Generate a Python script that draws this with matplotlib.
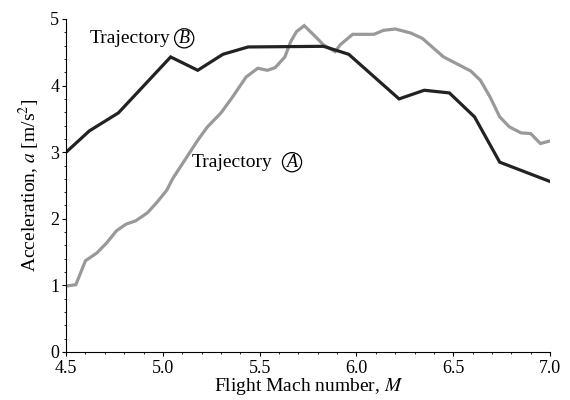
import matplotlib
matplotlib.use('Agg')
import matplotlib.pyplot as plt
from matplotlib.ticker import MultipleLocator, FormatStrFormatter

plt.rcParams['font.family'] = ['Liberation Serif', 'DejaVu Serif']
plt.rcParams['mathtext.fontset'] = 'stix'

# Trajectory A (gray)
mach_a = [4.50, 4.55, 4.60, 4.66, 4.71, 4.76, 4.81, 4.86, 4.92, 4.97, 5.02, 5.05,
          5.18, 5.23, 5.30, 5.36, 5.43, 5.49, 5.54, 5.58, 5.63, 5.66, 5.69, 5.73,
          5.79, 5.83, 5.89, 5.915, 5.98, 6.09, 6.14, 6.20, 6.28, 6.34, 6.45, 6.59,
          6.64, 6.69, 6.74, 6.79, 6.85, 6.90, 6.95, 7.00]
acc_a = [0.99, 1.01, 1.37, 1.49, 1.64, 1.82, 1.92, 1.97, 2.09, 2.25, 2.43, 2.60,
         3.18, 3.38, 3.59, 3.83, 4.13, 4.26, 4.23, 4.27, 4.43, 4.66, 4.81, 4.90,
         4.73, 4.61, 4.51, 4.61, 4.77, 4.77, 4.83, 4.85, 4.79, 4.71, 4.43, 4.22,
         4.08, 3.83, 3.53, 3.38, 3.29, 3.28, 3.13, 3.17]

# Trajectory B (black)
mach_b = [4.50, 4.62, 4.77, 5.04, 5.18, 5.31, 5.44, 5.83, 5.96, 6.22, 6.35, 6.48,
          6.61, 6.74, 7.00]
acc_b = [3.00, 3.32, 3.59, 4.43, 4.23, 4.47, 4.58, 4.59, 4.47, 3.80, 3.93, 3.89,
         3.53, 2.85, 2.56]

fig = plt.figure(figsize=(5.7, 4.0), dpi=100)
ax = fig.add_axes([0.116, 0.12, 0.849, 0.8325])

ax.plot(mach_a, acc_a, color='#999999', lw=2.3, solid_joinstyle='miter')
ax.plot(mach_b, acc_b, color='#222222', lw=2.3, solid_joinstyle='miter')

ax.set_xlim(4.5, 7.0)
ax.set_ylim(0, 5)
ax.xaxis.set_major_locator(MultipleLocator(0.5))
ax.xaxis.set_minor_locator(MultipleLocator(0.1))
ax.yaxis.set_major_locator(MultipleLocator(1))
ax.yaxis.set_minor_locator(MultipleLocator(0.2))
ax.xaxis.set_major_formatter(FormatStrFormatter('%.1f'))
ax.tick_params(which='major', direction='out', length=3, width=0.8, labelsize=13)
ax.tick_params(axis='x', which='major', pad=3)
ax.tick_params(axis='y', which='major', pad=2)
ax.tick_params(which='minor', direction='out', length=1.5, width=0.6)
ax.spines['top'].set_visible(False)
ax.spines['right'].set_visible(False)

ax.set_xlabel('Flight Mach number, $M$', fontsize=14, labelpad=-1)
ax.set_ylabel('Acceleration, $a$ [m/s$^2$]', fontsize=14, labelpad=6)

circ = dict(boxstyle='circle,pad=0.06', fc='none', ec='black', lw=0.9)
ax.text(4.624, 4.71, 'Trajectory', fontsize=14, va='center')
ax.text(5.11, 4.71, 'B', fontsize=13, fontstyle='italic', va='center', ha='center', bbox=circ)
ax.text(5.151, 2.85, 'Trajectory', fontsize=14, va='center')
ax.text(5.667, 2.85, 'A', fontsize=13, fontstyle='italic', va='center', ha='center', bbox=circ)

fig.savefig('out.png', dpi=100)
